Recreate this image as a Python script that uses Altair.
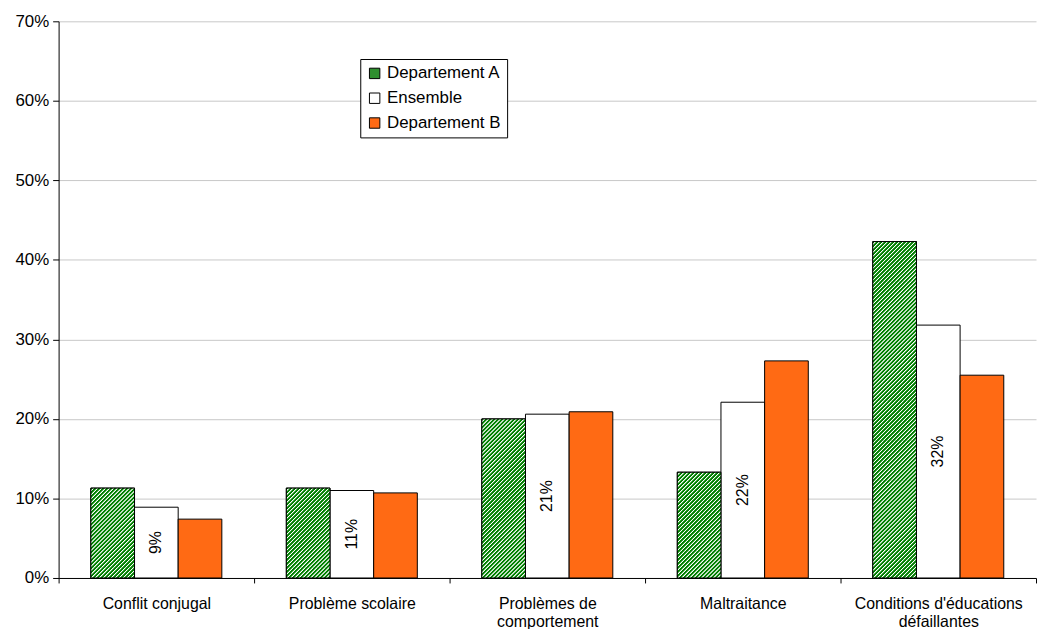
import math
import altair as alt
import pandas as pd

categories = [
    "Conflit conjugal",
    "Problème scolaire",
    "Problèmes de\ncomportement",
    "Maltraitance",
    "Conditions d'éducations\ndéfaillantes",
]
series_names = ["Departement A", "Ensemble", "Departement B"]
dept_a = [0.113, 0.113, 0.200, 0.133, 0.423]
ensemble = [0.089, 0.110, 0.206, 0.221, 0.318]
dept_b = [0.074, 0.107, 0.209, 0.273, 0.255]

series_values = {"Departement A": dept_a, "Ensemble": ensemble, "Departement B": dept_b}
rows = []
for s in series_names:
    for c, v in zip(categories, series_values[s]):
        rows.append({"category": c, "series": s, "value": v})
df = pd.DataFrame(rows)

W, H = 985, 561
Y_MAX = 0.7
FONT = "Liberation Sans"
BAR_W = 44.0
band_step = W / len(categories)
off_pad = (band_step / BAR_W - 3) / 2

GREEN = "#008000"
WHITE = "#ffffff"
SEG = 0.05  # hatch tile height (data units) for Departement A

# one stripe period profile (fraction of period, colour)
PROFILE = [(0.0, GREEN), (0.45, GREEN), (0.65, WHITE), (0.8, WHITE), (1.0, GREEN)]


def stripe_gradient(value_span, period=4.0):
    w = BAR_W
    h = max(value_span / Y_MAX * H, 0.5)
    k = (w + h) / (w * w + h * h)
    n_f = (w + h) / period
    stops = []
    k_i = 0
    while k_i < n_f:
        for frac, col in PROFILE:
            o = min((k_i + frac) / n_f, 1.0)
            stops.append(alt.GradientStop(offset=round(o, 5), color=col))
        k_i += 1
    return alt.LinearGradient(
        gradient="linear", stops=stops, x1=0, y1=0, x2=round(k * w, 5), y2=round(k * h, 5)
    )


# split Departement A bars into hatch tiles (remainder at the bottom)
full_tiles = []
partial_tiles = []
for c, v in zip(categories, dept_a):
    n_full = int(math.floor(v / SEG + 1e-9))
    rem = v - n_full * SEG
    start = 0.0
    if rem > 1e-6:
        partial_tiles.append({"category": c, "series": "Departement A", "y0": 0.0, "y1": rem})
        start = rem
    for j in range(n_full):
        full_tiles.append(
            {"category": c, "series": "Departement A", "y0": start + j * SEG, "y1": start + (j + 1) * SEG}
        )

x_enc = alt.X(
    "category:N",
    sort=categories,
    scale=alt.Scale(paddingInner=0, paddingOuter=0),
    axis=alt.Axis(
        title=None,
        labelAngle=0,
        labelFont=FONT,
        labelFontSize=16,
        labelColor="#000000",
        labelExpr="split(datum.label, '\\n')",
        labelLineHeight=18,
        labelPadding=13,
        tickBand="extent",
        tickSize=5,
        tickColor="#000000",
        domainColor="#000000",
        grid=False,
    ),
)
xoff_enc = alt.XOffset(
    "series:N",
    sort=series_names,
    scale=alt.Scale(domain=series_names, paddingInner=0, paddingOuter=off_pad),
)
y_axis = alt.Axis(
    title=None,
    format=".0%",
    values=[0, 0.1, 0.2, 0.3, 0.4, 0.5, 0.6, 0.7],
    labelFont=FONT,
    labelFontSize=17,
    labelColor="#000000",
    labelPadding=4,
    tickSize=6,
    tickColor="#000000",
    domainColor="#000000",
    gridColor="#c8c8c8",
    gridWidth=1,
)
y_scale = alt.Scale(domain=[0, Y_MAX], nice=False)
y_enc = alt.Y("value:Q", scale=y_scale, axis=y_axis)

base = alt.Chart(df).mark_bar(stroke="#000000", strokeWidth=1).encode(
    x=x_enc,
    xOffset=xoff_enc,
    y=y_enc,
    color=alt.Color(
        "series:N",
        sort=series_names,
        scale=alt.Scale(domain=series_names, range=["#2f8f2f", "#ffffff", "#ff6a14"]),
        legend=alt.Legend(
            title=None,
            orient="none",
            legendX=304,
            legendY=38,
            fillColor="#ffffff",
            strokeColor="#000000",
            padding=6,
            symbolType="square",
            symbolSize=110,
            symbolStrokeColor="#000000",
            symbolStrokeWidth=1,
            labelFont=FONT,
            labelFontSize=17,
            labelColor="#000000",
            labelOffset=4,
            rowPadding=7,
        ),
    ),
)

layers = [base]

layers.append(
    alt.Chart(pd.DataFrame(full_tiles))
    .mark_bar(fill=stripe_gradient(SEG), strokeWidth=0)
    .encode(
        x=x_enc,
        xOffset=xoff_enc,
        y=alt.Y("y0:Q", scale=y_scale, axis=y_axis),
        y2="y1:Q",
    )
)
for t in partial_tiles:
    layers.append(
        alt.Chart(pd.DataFrame([t]))
        .mark_bar(fill=stripe_gradient(t["y1"] - t["y0"]), strokeWidth=0)
        .encode(
            x=x_enc,
            xOffset=xoff_enc,
            y=alt.Y("y0:Q", scale=y_scale, axis=y_axis),
            y2="y1:Q",
        )
    )

# outline of Departement A bars on top of the hatch tiles
layers.append(
    alt.Chart(df)
    .transform_filter(alt.FieldEqualPredicate(field="series", equal="Departement A"))
    .mark_bar(fillOpacity=0, stroke="#000000", strokeWidth=1)
    .encode(x=x_enc, xOffset=xoff_enc, y=y_enc)
)

labels = (
    alt.Chart(df)
    .transform_filter(alt.FieldEqualPredicate(field="series", equal="Ensemble"))
    .transform_calculate(mid="datum.value / 2")
    .mark_text(angle=270, font=FONT, fontSize=16, color="#000000", baseline="middle", align="center")
    .encode(
        x=x_enc,
        xOffset=xoff_enc,
        y=alt.Y("mid:Q", scale=y_scale, axis=y_axis),
        text=alt.Text("value:Q", format=".0%"),
    )
)
layers.append(labels)

chart = (
    alt.layer(*layers)
    .properties(
        width=W,
        height=H,
        autosize=alt.AutoSizeParams(type="none"),
        padding={"left": 51, "top": 11, "right": 2, "bottom": 49},
        background="#ffffff",
    )
    .configure_view(stroke=None)
)

chart.save("out.html", embed_options={"renderer": "svg", "actions": False})
